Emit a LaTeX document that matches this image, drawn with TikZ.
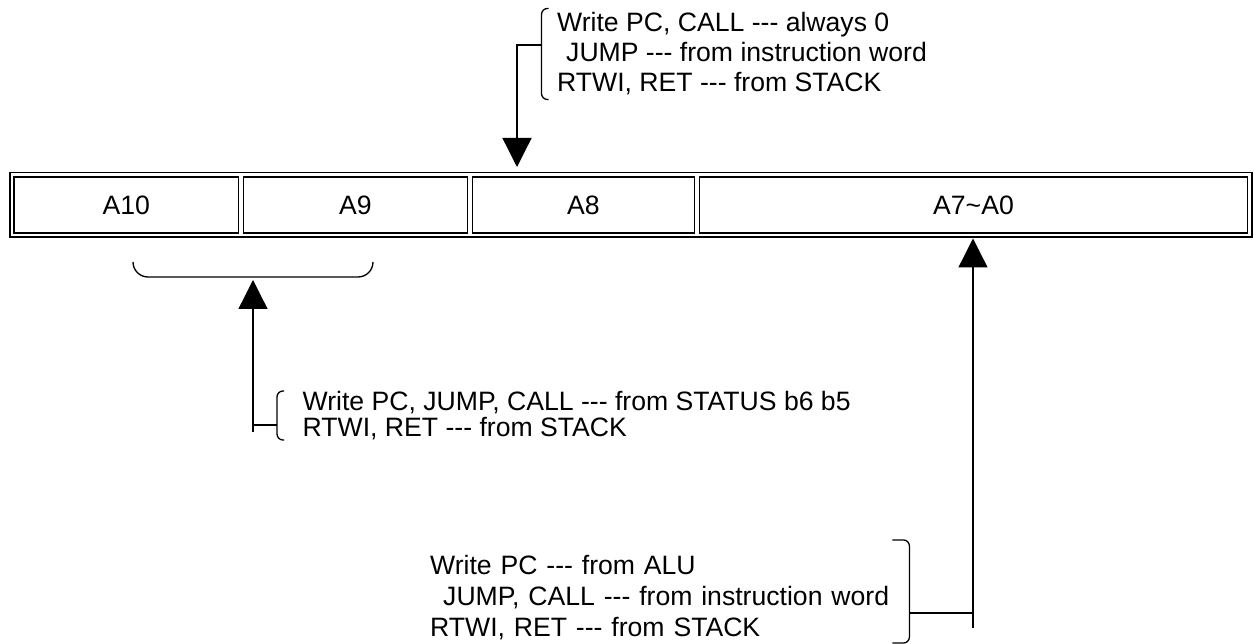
\documentclass[tikz,border=0pt]{standalone}
\usepackage{fontspec}
\setmainfont{Liberation Sans}
\usetikzlibrary{arrows.meta, positioning, fit}

\begin{document}
\begin{tikzpicture}[x=1pt, y=-1pt, node distance=3.5pt,
        bit/.style = {draw, line width=1.5pt, minimum height=56pt, inner sep=0pt, font=\fontsize{26.6}{30}\selectfont},
        note/.style = {align=left, inner sep=0pt, font=\fontsize{26.6}{30}\selectfont},
        brk/.style = {line width=1.3pt, rounded corners=6pt},
        wire/.style = {line width=1.3pt},
        feed/.style = {line width=1.3pt, -{Triangle[width=29pt, length=29pt]}}]
            \useasboundingbox (0,0) rectangle (1254,644);

            \node[bit, minimum width=224.5pt] (A10) at (126.25,205) {A10};
            \node[bit, minimum width=224pt] (A9) [right=of A10] {A9};
            \node[bit, minimum width=222pt] (A8) [right=of A9] {A8};
            \node[bit, minimum width=548pt] (A7) [right=of A8] {A7\textasciitilde A0};
            \node[draw, line width=1.5pt, fit=(A10)(A7), inner sep=3.5pt] (reg) {};

            \node[note, anchor=west, inner xsep=15.5pt, inner ysep=4pt] (wr) at (541.5,54)
                {Write PC, CALL -{}-{}- always 0\\\hspace{9pt}JUMP -{}-{}- from instruction word\\RTWI, RET -{}-{}- from STACK};
            \node[note, anchor=west, inner xsep=25.5pt, font=\fontsize{26.6}{26}\selectfont] (st) at (277,415.5)
                {Write PC, JUMP, CALL -{}-{}- from STATUS b6 b5\\RTWI, RET -{}-{}- from STACK};
            \node[note, anchor=west, text width=479pt, font=\fontsize{26.6}{31}\selectfont] (alu) at (430,597.5)
                {Write PC -{}-{}- from ALU\\\hspace{13pt}JUMP, CALL -{}-{}- from instruction word\\RTWI, RET -{}-{}- from STACK};

            \coordinate (t8) at (517,167);
            \coordinate (hb) at (253,277);
            \coordinate (f9) at (253,432);
            \coordinate (t7) at (973,238.5);
            \coordinate (f7) at (973,628);

            \draw[brk] ([xshift=7pt]wr.north west) -| (wr.south west) -- ++(7,0);
            \draw[brk] ([xshift=7pt]st.north west) -| (st.south west) -- ++(7,0);
            \draw[brk] ([shift={(-17pt,15pt)}]alu.north east) -| ([yshift=-3pt]alu.south east) -- ++(-17,0);
            \draw[brk, rounded corners=15pt] ([shift={(-120pt,15pt)}]hb) |- (hb) -| ([shift={(120pt,15pt)}]hb);

            \draw[feed] ([yshift=9pt]wr.west) -| (t8);
            \draw[wire] ([yshift=-9.5pt]st.west) -- ++(-24.5,0);
            \draw[feed] (f9) -- ([yshift=-3pt]hb);
            \draw[wire] ([yshift=-15.5pt]alu.east) -- ++(64,0);
            \draw[feed] (f7) -- (t7);
        \end{tikzpicture}
\end{document}
